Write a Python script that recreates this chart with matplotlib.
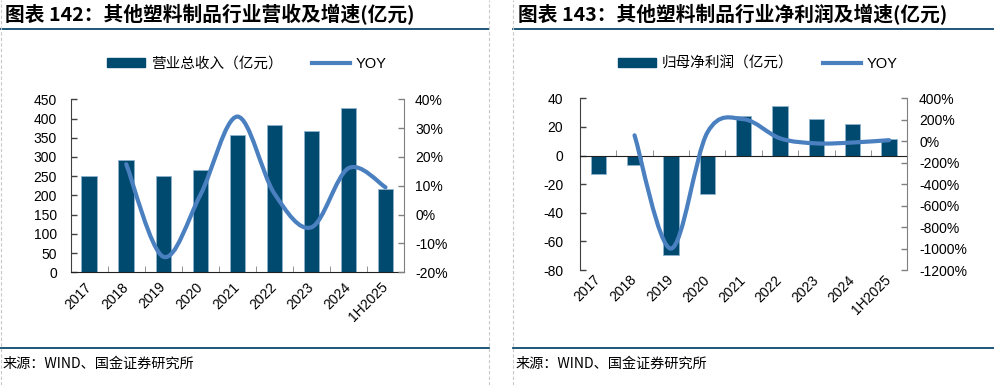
import numpy as np
import matplotlib.pyplot as plt
from matplotlib.path import Path
from matplotlib.patches import PathPatch, Patch
from matplotlib.lines import Line2D
from matplotlib.ticker import FuncFormatter, FixedLocator

plt.rcParams['font.family'] = ['Liberation Sans', 'Noto Sans CJK SC', 'DejaVu Sans']
plt.rcParams['axes.unicode_minus'] = False

years = ['2017', '2018', '2019', '2020', '2021', '2022', '2023', '2024', '1H2025']
revenue = [250, 293, 250, 267, 358, 384, 367, 427, 217]
revenue_yoy = [None, 17.5, -14.6, 6.8, 34.0, 7.3, -4.4, 16.1, 9.5]
profit = [-12.9, -6.4, -69.7, -26.7, 27.6, 34.6, 25.7, 22.0, 11.7]
profit_yoy = [None, 55, -1000, 80, 205, 27, -20, -12, 10]

BAR = '#004a6f'
LINE = '#4a80c0'
CJK = ['Noto Sans CJK SC', 'DejaVu Sans']


def smooth_path(xs, ys):
    # excel-like smoothed line, drawn as bezier curves
    pts = np.column_stack([xs, ys]).astype(float)
    n = len(pts)
    verts = [pts[0]]
    codes = [Path.MOVETO]
    for i in range(n - 1):
        p0 = pts[max(i - 1, 0)]
        p1 = pts[i]
        p2 = pts[i + 1]
        p3 = pts[min(i + 2, n - 1)]
        verts += [p1 + (p2 - p0) / 6, p2 - (p3 - p1) / 6, p2]
        codes += [Path.CURVE4] * 3
    return Path(verts, codes)


def draw_panel(rect, values, yoy, ylim, yticks, y2lim, y2ticks, bar_label,
               zero_axis, lpad, rpad, leg_x):
    ax = fig.add_axes(rect)
    x = np.arange(len(years))
    ax.bar(x, values, width=0.42, color=BAR, edgecolor='#8fb3cf', linewidth=0.6, zorder=2)
    ax.set_xlim(-0.5, len(years) - 0.5)
    ax.set_ylim(*ylim)
    ax.set_yticks(yticks)
    ax.spines['top'].set_visible(False)
    ax.spines['right'].set_visible(False)
    ax.spines['left'].set_color('#404040')
    ax.spines['bottom'].set_color('#202020')
    ax.tick_params(axis='y', direction='in', length=4, width=1, color='#404040',
                   labelsize=10, pad=lpad)
    ax.xaxis.set_minor_locator(FixedLocator(np.arange(0.5, len(years) - 1, 1.0)))
    ax.tick_params(axis='x', which='minor', direction='in', length=4, color='#808080')
    ax.tick_params(axis='x', which='major', length=0)
    ax.set_xticks(x)
    if zero_axis:
        ax.spines['bottom'].set_position(('data', 0))
        ax.set_xticklabels([])
        for i, lab in enumerate(years):
            ax.text(i, -0.045, lab, transform=ax.get_xaxis_transform(),
                    rotation=45, ha='right', va='center', rotation_mode='anchor',
                    fontsize=10)
    else:
        ax.set_xticklabels(years, rotation=45, ha='right', va='center',
                           rotation_mode='anchor', fontsize=10)
        ax.tick_params(axis='x', which='major', pad=9)

    ax2 = ax.twinx()
    ax2.set_ylim(*y2lim)
    ax2.set_yticks(y2ticks)
    ax2.yaxis.set_major_formatter(FuncFormatter(lambda v, p: f'{v:.0f}%'))
    for s in ['top', 'left', 'bottom']:
        ax2.spines[s].set_visible(False)
    ax2.spines['right'].set_color('#808080')
    ax2.tick_params(axis='y', direction='in', length=4, width=1, color='#808080',
                    labelsize=10, pad=rpad)
    xs = [i for i, v in enumerate(yoy) if v is not None]
    ys = [v for v in yoy if v is not None]
    ax2.add_patch(PathPatch(smooth_path(xs, ys), fill=False, edgecolor=LINE,
                            linewidth=3, capstyle='round', zorder=3))

    handles = [Patch(facecolor=BAR, edgecolor=BAR),
               Line2D([], [], color=LINE, linewidth=3)]
    leg = ax2.legend(handles, [bar_label, 'YOY'], loc='center', ncol=2,
                     bbox_to_anchor=(leg_x / 995, 0.835),
                     bbox_transform=fig.transFigure, frameon=False,
                     fontsize=10.5, handlelength=2.6, handleheight=0.6,
                     columnspacing=2.0, handletextpad=0.4)
    for t in leg.get_texts():
        t.set_family(['Liberation Sans'] + CJK)
    return ax


fig = plt.figure(figsize=(9.95, 3.85), dpi=100)

draw_panel([70.7 / 995, 1 - 272.3 / 385, 333.3 / 995, 173 / 385],
           revenue, revenue_yoy, (0, 450), range(0, 451, 50),
           (-20, 40), range(-20, 41, 10), '营业总收入（亿元）', False, 10, 8, 247)
draw_panel([580 / 995, 1 - 270 / 385, 327.3 / 995, 171.7 / 385],
           profit, profit_yoy, (-80, 40), range(-80, 41, 20),
           (-1200, 400), range(-1200, 401, 200), '归母净利润（亿元）', True, 12, 8.5, 758)

# titles, rules and source notes
for x0, x1, title in [(0, 489, '图表 142：其他塑料制品行业营收及增速(亿元)'),
                      (513, 995, '图表 143：其他塑料制品行业净利润及增速(亿元)')]:
    fig.text((x0 + 5) / 995, 1 - 15 / 385, title, fontsize=14.2, fontweight='bold',
             fontstyle='italic', family=CJK, ha='left', va='center')
    fig.add_artist(Line2D([x0 / 995, x1 / 995], [1 - 29 / 385] * 2,
                          color='#0b4a6e', linewidth=1.3))
    fig.add_artist(Line2D([x0 / 995, x1 / 995], [1 - 348 / 385] * 2,
                          color='#0b4a6e', linewidth=1.3))
    fig.text((x0 + 3) / 995, 1 - 364 / 385, '来源：WIND、国金证券研究所', fontsize=10.2,
             family=CJK, ha='left', va='center')

for xv in [1, 489, 513]:
    fig.add_artist(Line2D([xv / 995] * 2, [0, 1], color='#c8c8c8', linewidth=0.8,
                          linestyle=(0, (3, 2))))

fig.savefig('out.png', dpi=100)
